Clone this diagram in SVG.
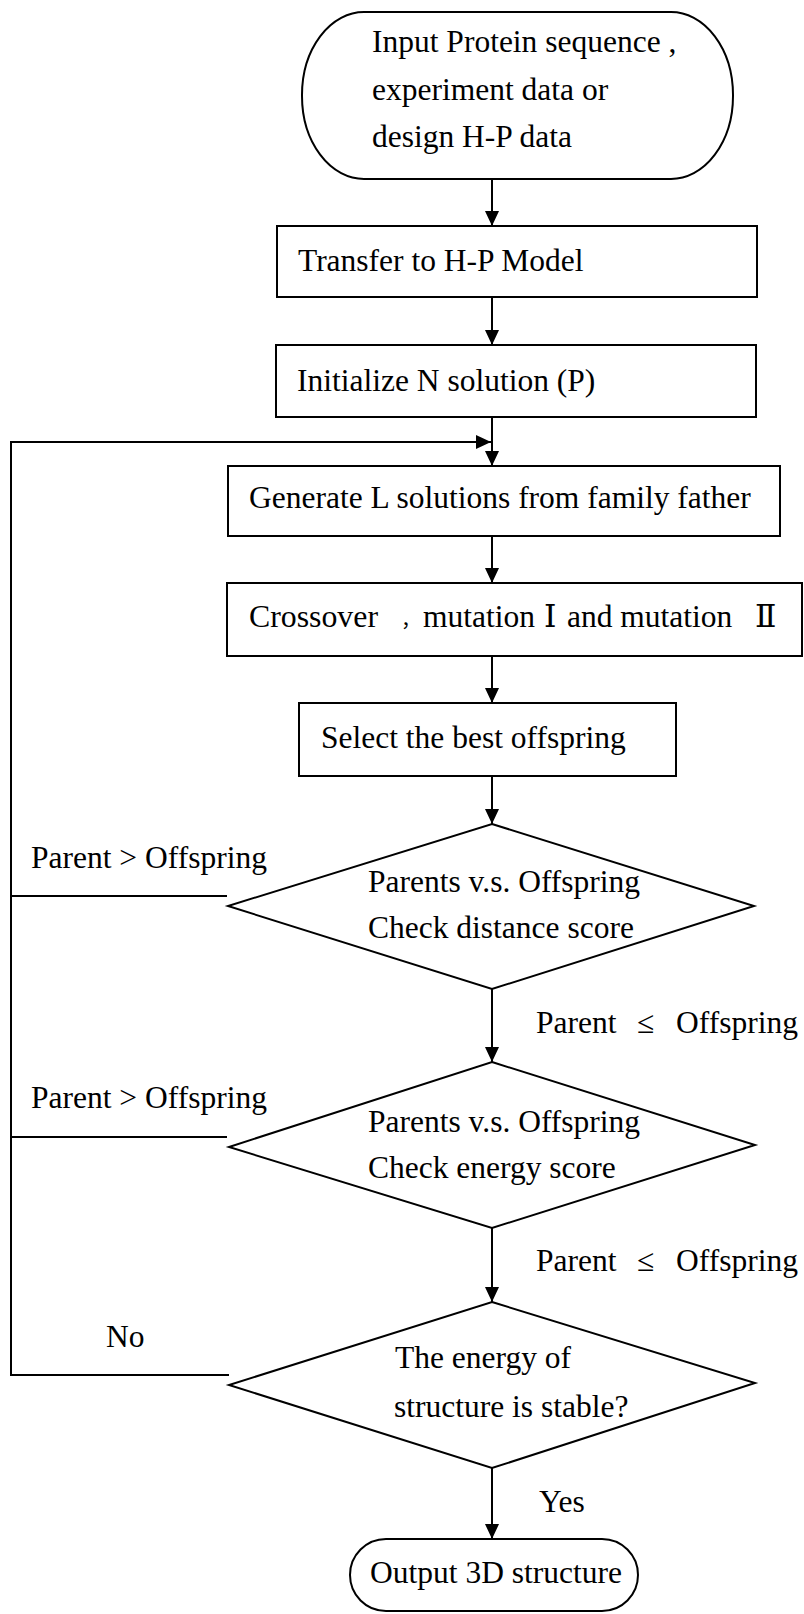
<svg xmlns="http://www.w3.org/2000/svg" width="804" height="1614" viewBox="0 0 804 1614">
<style>
  .shape { fill: #ffffff; stroke: #000000; stroke-width: 2; }
  .line { fill: none; stroke: #000000; stroke-width: 2; }
  .t { font-family: "Liberation Serif", "Times New Roman", serif; font-size: 31.5px; fill: #000000; }
  .cjk { font-family: "DejaVu Serif", "Noto Sans CJK SC", serif; }
</style>
<defs>
  <marker id="arrow" markerUnits="userSpaceOnUse" markerWidth="16" markerHeight="16" refX="15" refY="7" orient="auto">
    <path d="M0,0 L15,7 L0,14 z" fill="#000000"/>
  </marker>
</defs>
<rect width="804" height="1614" fill="#ffffff"/>

<g id="connectors">
  <line class="line" x1="492" y1="179" x2="492" y2="226" marker-end="url(#arrow)"/>
  <line class="line" x1="492" y1="297" x2="492" y2="345" marker-end="url(#arrow)"/>
  <line class="line" x1="492" y1="417" x2="492" y2="466" marker-end="url(#arrow)"/>
  <line class="line" x1="492" y1="536" x2="492" y2="583" marker-end="url(#arrow)"/>
  <line class="line" x1="492" y1="656" x2="492" y2="703" marker-end="url(#arrow)"/>
  <line class="line" x1="492" y1="776" x2="492" y2="824" marker-end="url(#arrow)"/>
  <line class="line" x1="492" y1="989" x2="492" y2="1062" marker-end="url(#arrow)"/>
  <line class="line" x1="492" y1="1228" x2="492" y2="1302" marker-end="url(#arrow)"/>
  <line class="line" x1="492" y1="1468" x2="492" y2="1539" marker-end="url(#arrow)"/>
  <path class="line" d="M227,896 H11"/>
  <path class="line" d="M227,1137 H11"/>
  <path class="line" d="M229,1375 H11 V442 H491" marker-end="url(#arrow)"/>
  <text class="t" x="31" y="868">Parent &gt; Offspring</text>
  <text class="t" x="31" y="1108">Parent &gt; Offspring</text>
  <text class="t" x="106" y="1347">No</text>
  <text class="t" y="1033"><tspan x="536">Parent</tspan><tspan x="637">≤</tspan><tspan x="676">Offspring</tspan></text>
  <text class="t" y="1271"><tspan x="536">Parent</tspan><tspan x="637">≤</tspan><tspan x="676">Offspring</tspan></text>
  <text class="t" x="539" y="1512">Yes</text>
</g>

<g id="start">
  <rect class="shape" x="302" y="12" width="431" height="167" rx="62" ry="83"/>
  <text class="t" x="372" y="52">Input Protein sequence ,</text>
  <text class="t" x="372" y="100">experiment data or</text>
  <text class="t" x="372" y="147">design H-P data</text>
</g>

<g id="transfer">
  <rect class="shape" x="277" y="226" width="480" height="71"/>
  <text class="t" x="298" y="271">Transfer to H-P Model</text>
</g>

<g id="initialize">
  <rect class="shape" x="276" y="345" width="480" height="72"/>
  <text class="t" x="297" y="391">Initialize N solution (P)</text>
</g>

<g id="generate">
  <rect class="shape" x="228" y="466" width="552" height="70"/>
  <text class="t" x="249" y="508">Generate L solutions from family father</text>
</g>

<g id="crossover">
  <rect class="shape" x="227" y="583" width="575" height="73"/>
  <text class="t" x="249" y="627" textLength="129" lengthAdjust="spacingAndGlyphs">Crossover</text>
  <text class="t cjk" x="401" y="627" style="font-size:20px">，</text>
  <text class="t" y="627"><tspan x="423">mutation</tspan><tspan class="cjk" x="544">Ⅰ</tspan><tspan x="567">and mutation</tspan><tspan class="cjk" x="755">Ⅱ</tspan></text>
</g>

<g id="select">
  <rect class="shape" x="299" y="703" width="377" height="73"/>
  <text class="t" x="321" y="748">Select the best offspring</text>
</g>

<g id="check-distance">
  <polygon class="shape" points="492,824 754,906 492,989 228,906"/>
  <text class="t" x="368" y="892">Parents v.s. Offspring</text>
  <text class="t" x="368" y="938">Check distance score</text>
</g>

<g id="check-energy">
  <polygon class="shape" points="492,1062 755,1145 492,1228 229,1147"/>
  <text class="t" x="368" y="1132">Parents v.s. Offspring</text>
  <text class="t" x="368" y="1178">Check energy score</text>
</g>

<g id="stable">
  <polygon class="shape" points="492,1302 755,1383 492,1468 229,1385"/>
  <text class="t" x="395" y="1368">The energy of</text>
  <text class="t" x="394" y="1417">structure is stable?</text>
</g>

<g id="end">
  <rect class="shape" x="350" y="1539" width="288" height="72" rx="36" ry="36"/>
  <text class="t" x="370" y="1583">Output 3D structure</text>
</g>
</svg>
